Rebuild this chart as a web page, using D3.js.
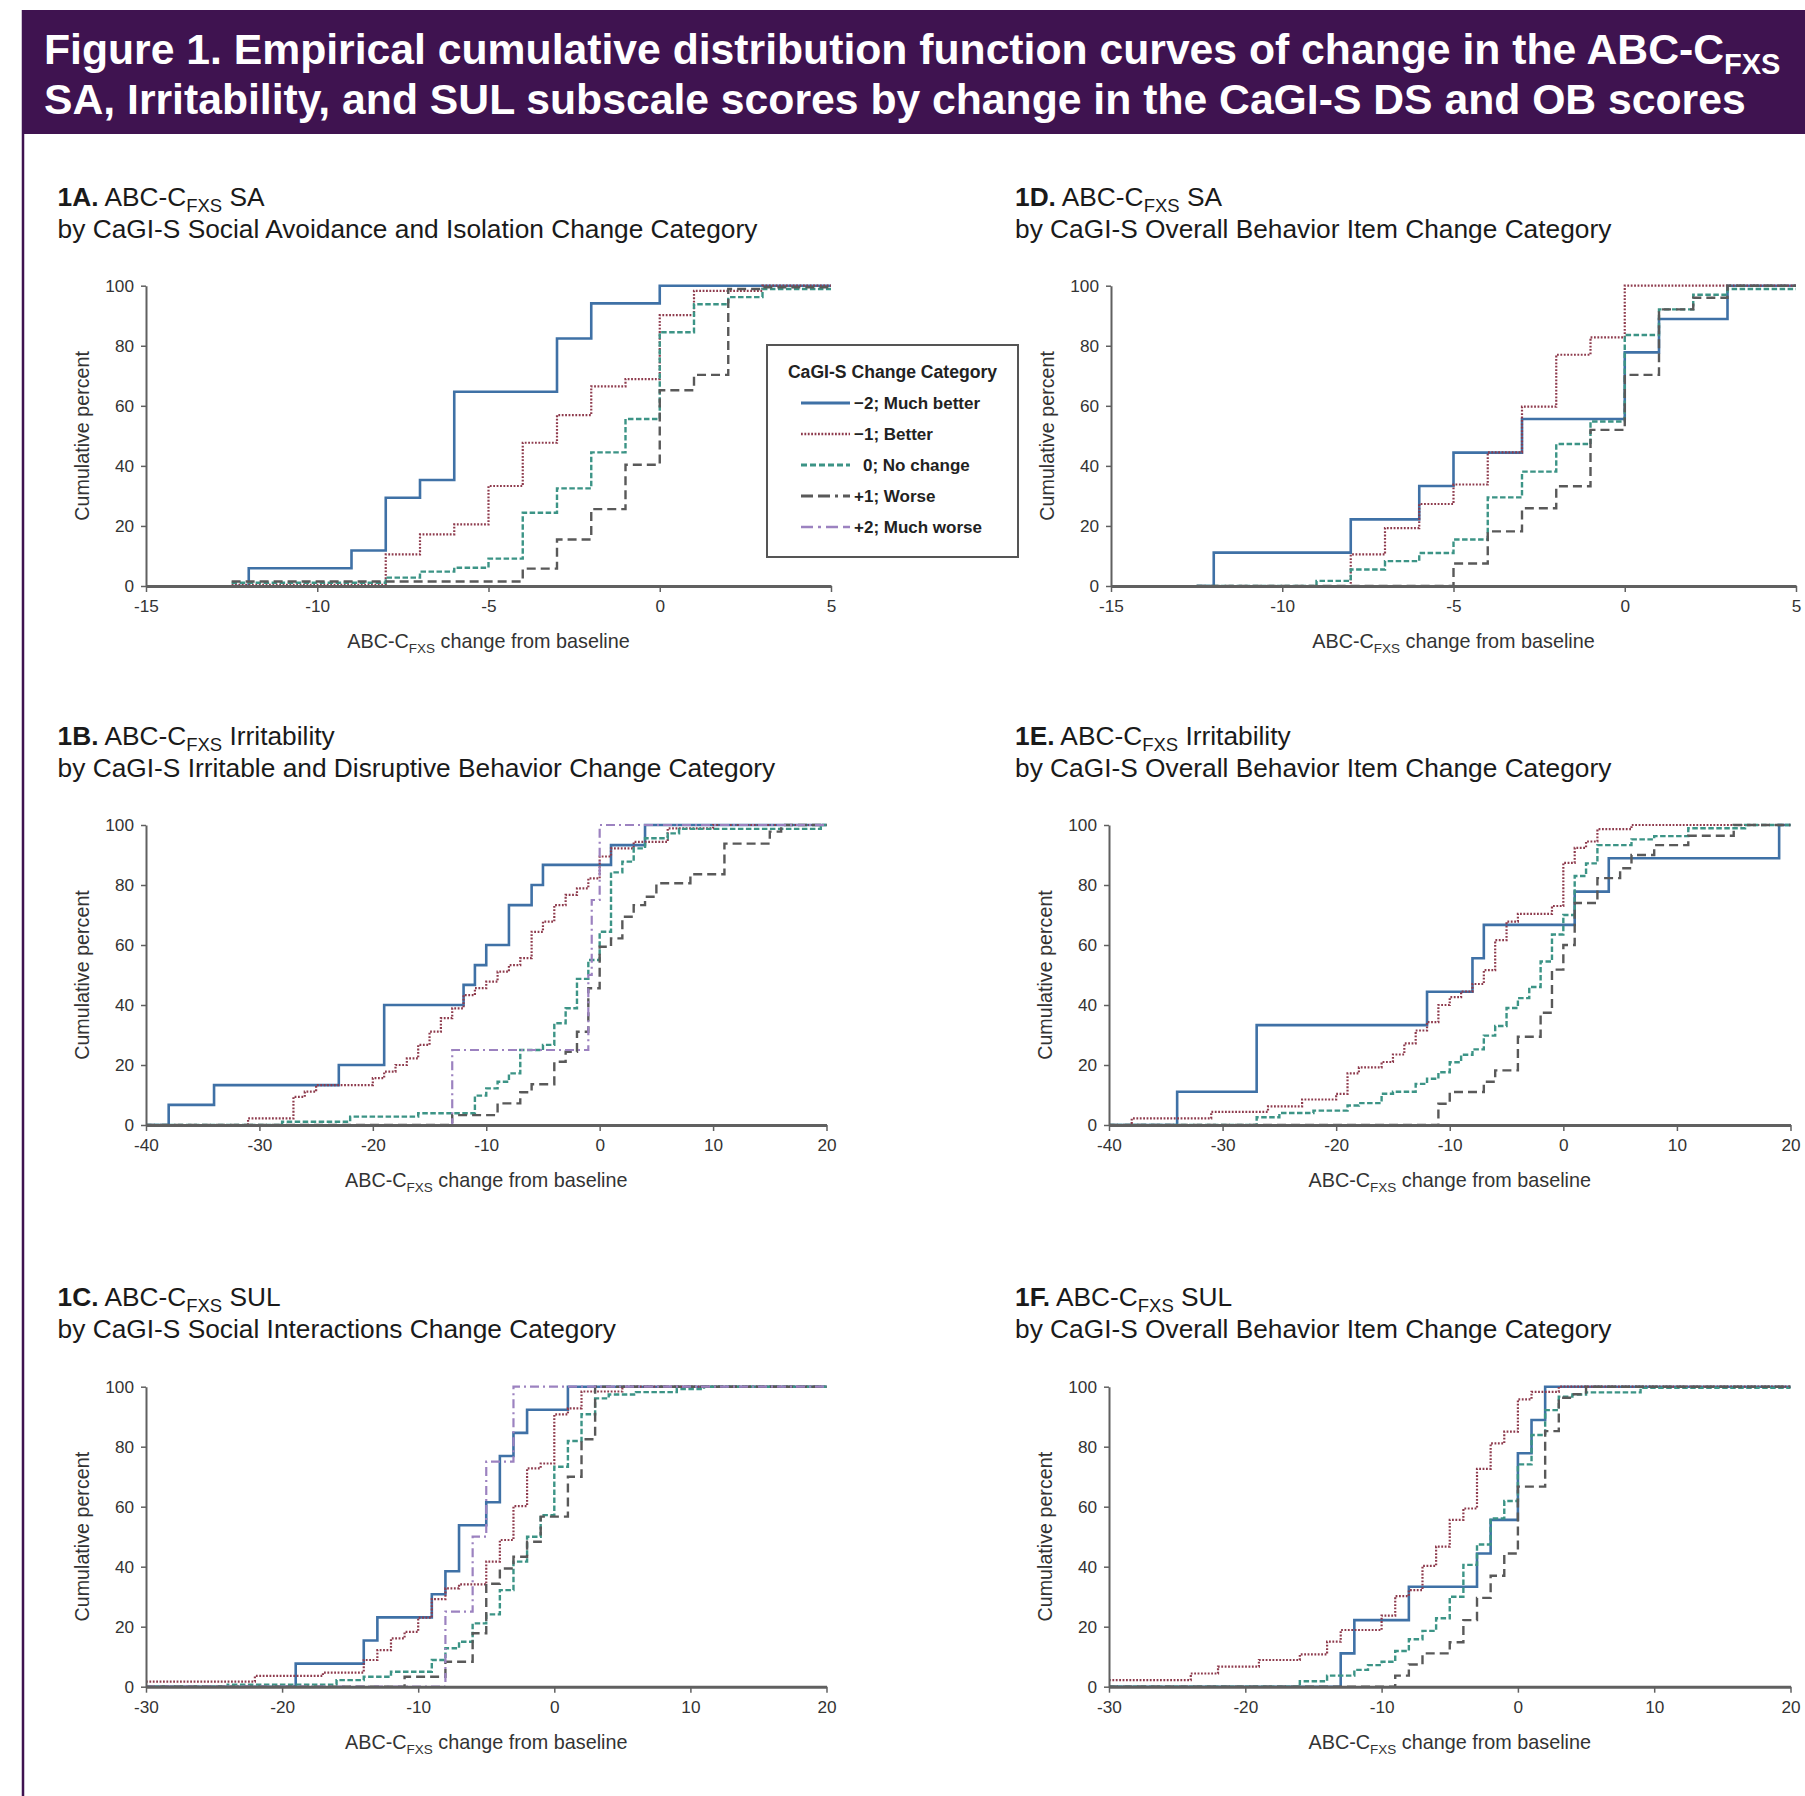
<!DOCTYPE html>
<html>
<head>
<meta charset="utf-8">
<script src="https://cdn.jsdelivr.net/npm/d3@7"></script>
<style>
  body { margin: 0; background: #ffffff; }
  svg { display: block; }
  text { font-family: "Liberation Sans", Arial, Helvetica, sans-serif; }
</style>
</head>
<body>
<svg id="fig" width="1805" height="1796"></svg>
<script>
// ---------------- DATA ----------------
const seriesLabels = ["\u22122; Much better", "\u22121; Better", "0; No change", "+1; Worse", "+2; Much worse"];
const seriesKeys = ["mb", "b", "nc", "w", "mw"];
const yTicks = [0, 20, 40, 60, 80, 100];
const xTicksSA = [-15, -10, -5, 0, 5];
const xTicksIrr = [-40, -30, -20, -10, 0, 10, 20];
const xTicksSUL = [-30, -20, -10, 0, 10, 20];

// Each series: [change from baseline, cumulative percent] step points
// 1A  SA by CaGI-S Social Avoidance and Isolation
const A_mb = [[-12.5,0],[-12,5.9],[-9,11.8],[-8,29.4],[-7,35.3],[-6,64.7],[-3,82.4],[-2,94.1],[0,100]];
const A_b  = [[-12.5,0.4],[-8,10.5],[-7,17.2],[-6,20.5],[-5,33.3],[-4,47.7],[-3,56.9],[-2,66.5],[-1,68.9],[0,90.2],[1,98.3],[3,100]];
const A_nc = [[-12.5,1.1],[-8,2.8],[-7,4.8],[-6,6.1],[-5,9.1],[-4,24.4],[-3,32.5],[-2,44.5],[-1,55.6],[0,84.5],[1,93.8],[2,96.2],[3,98.9]];
const A_w  = [[-12.5,1.5],[-4,5.8],[-3,15.5],[-2,25.6],[-1,40.4],[0,65.2],[1,70.3],[2,98.9],[3,99.5]];

// 1D  SA by CaGI-S Overall Behavior
const D_mb = [[-12.5,0],[-12,11.1],[-8,22.2],[-6,33.3],[-5,44.4],[-3,55.6],[0,77.8],[1,88.9],[3,100]];
const D_b  = [[-12.5,0],[-8,10.5],[-7,19.3],[-6,27.3],[-5,33.8],[-4,44.5],[-3,59.7],[-2,77],[-1,82.8],[0,100]];
const D_nc = [[-12.5,0],[-9,1.7],[-8,5.5],[-7,8.3],[-6,11],[-5,15.5],[-4,29.5],[-3,38.1],[-2,47.3],[-1,54.8],[0,83.6],[1,92.1],[2,97],[3,98.9]];
const D_w  = [[-12.5,0],[-5,7.5],[-4,18.2],[-3,25.9],[-2,33.2],[-1,52],[0,70.3],[1,92.1],[2,96],[3,100]];

// 1B  Irritability by CaGI-S Irritable and Disruptive Behavior
const B_mb = [[-40,0],[-38,6.7],[-34,13.3],[-23,20],[-19,40],[-12,46.7],[-11,53.3],[-10,60],[-8,73.3],[-6,80],[-5,86.7],[1,93.3],[4,100]];
const B_b  = [[-40,0],[-31,2.2],[-27,9.4],[-26,11.1],[-25,13.3],[-20,15.6],[-19,17.8],[-18,20],[-17,22.2],[-16,26.7],[-15,31.1],[-14,35.6],[-13,38.9],[-12,43.3],[-11,45.6],[-10,47.8],[-9,51.1],[-8,53.3],[-7,55.6],[-6,64.4],[-5,67.8],[-4,73.3],[-3,76.7],[-2,78.9],[-1,82.2],[0,89.5],[1,92.2],[3,94.4],[6,98.9],[10,100]];
const B_nc = [[-40,0],[-28,1.1],[-22,2.8],[-16,3.9],[-11,9.8],[-10,12.2],[-9,14.4],[-8,17.2],[-7,25],[-5,26.7],[-4,33.9],[-3,38.9],[-2,48.7],[-1,55],[0,64.4],[1,84.2],[2,87.8],[3,92.2],[4,95.6],[6,97.2],[7,98.7],[19.5,100]];
const B_w  = [[-40,0],[-13,3.3],[-9,7.2],[-7,10.9],[-6,13.6],[-4,21.1],[-3,24.4],[-2,31.1],[-1,45.6],[0,59.4],[1,62.2],[2,69.4],[3,73.3],[4,76.1],[5,80.6],[8,83.6],[11,93.8],[15,97.8],[16,100]];
const B_mw = [[-40,0],[-13,25],[-1,50],[-0.7,75],[0,100]];

// 1E  Irritability by CaGI-S Overall Behavior
const E_mb = [[-40,0],[-34,11.1],[-27,33.3],[-12,44.4],[-8,55.6],[-7,66.7],[1,77.8],[4,88.9],[19,100]];
const E_b  = [[-40,0],[-38,2.2],[-31,4.4],[-26,6.2],[-23,8.5],[-20,10.4],[-19,17.2],[-18,19.2],[-16,21],[-15,23.5],[-14,27.2],[-13,31.5],[-12,34.3],[-11,40],[-10,42.6],[-9,44.5],[-8,47],[-7,51.6],[-6,61.6],[-5,67.8],[-4,70.4],[-1,73],[0,87.4],[1,92.4],[2,94.5],[3,98.6],[6,100]];
const E_nc = [[-40,0],[-27,2.6],[-25,4],[-22,4.8],[-19,6.5],[-18,7.3],[-16,10.4],[-15,11.1],[-13,13.7],[-12,15.4],[-11,17.6],[-10,20.9],[-9,23.4],[-8,25.2],[-7,29.8],[-6,33],[-5,39],[-4,42.3],[-3,46],[-2,54.5],[-1,63.5],[0,70],[1,83],[2,87.2],[3,93.3],[6,95.2],[8,96.3],[11,98.9],[16,100]];
const E_w  = [[-40,0],[-11,7.1],[-10,11],[-7,14.4],[-6,18.2],[-4,29.4],[-2,37.4],[-1,51.8],[0,60],[1,74],[3,82.3],[5,85.6],[6,90],[8,93.3],[11,96.4],[15,100]];

// 1C  SUL by CaGI-S Social Interactions
const C_mb = [[-30,0],[-19,7.7],[-14,15.4],[-13,23.1],[-9,30.8],[-8,38.5],[-7,53.8],[-5,61.5],[-4,76.9],[-3,84.6],[-2,92.3],[1,100]];
const C_b  = [[-30,1.7],[-22,3.6],[-17,4.7],[-14,8.9],[-13,12.2],[-12,16.1],[-11,18.3],[-10,23],[-9,29.2],[-8,32.8],[-7,34.1],[-5,41.7],[-4,48.9],[-3,60.2],[-2,72.8],[-1,74.4],[0,90.8],[1,92.8],[2,98.4],[5,100]];
const C_nc = [[-30,0],[-24,0.7],[-16,2.2],[-14,3.3],[-12,5],[-9,8.9],[-8,12.8],[-7,15],[-6,21.1],[-5,24.1],[-4,32.2],[-3,41.7],[-2,50],[-1,57.2],[0,73.3],[1,81.9],[2,90.8],[3,96.1],[4,97.4],[6,98.2],[9,99.2],[11,100]];
const C_w  = [[-30,0],[-11,3.3],[-8,8.3],[-6,17.8],[-5,34.3],[-4,39.4],[-3,43.3],[-2,48.3],[-1,56.7],[1,70],[2,82.5],[3,100]];
const C_mw = [[-30,0],[-8,25],[-6,50],[-5,75],[-3,100]];

// 1F  SUL by CaGI-S Overall Behavior
const F_mb = [[-30,0],[-13,11.1],[-12,22.2],[-8,33.3],[-3,44.4],[-2,55.6],[0,77.8],[1,88.9],[2,100]];
const F_b  = [[-30,2.2],[-24,4.4],[-22,6.7],[-19,8.9],[-16,10.8],[-14,15],[-13,18.9],[-10,23.7],[-9,30.2],[-8,32.2],[-7,40.3],[-6,46.7],[-5,55.6],[-4,59.4],[-3,72.6],[-2,81.1],[-1,85],[0,95.8],[1,98.3],[3,100]];
const F_nc = [[-30,0],[-16,1.8],[-14,3.7],[-12,5.6],[-11,7.2],[-10,8.3],[-9,11.9],[-8,15.8],[-7,18.6],[-6,22.8],[-5,30],[-4,40.6],[-3,47.4],[-2,56.1],[-1,61.9],[0,74.1],[1,83.9],[2,92.2],[3,96.7],[4,97.4],[5,98.1],[9,99.6]];
const F_w  = [[-30,0],[-9,3.7],[-8,7.4],[-7,11.1],[-5,14.8],[-4,22.2],[-3,29.6],[-2,37],[-1,44.4],[0,66.7],[2,85.2],[3,96.3],[4,97.5],[5,100]];

// panel text
const panelIds = ["1A", "1D", "1B", "1E", "1C", "1F"];
const panelScales = ["SA", "SA", "Irritability", "Irritability", "SUL", "SUL"];
const panelSubtitles = [
  "by CaGI-S Social Avoidance and Isolation Change Category",
  "by CaGI-S Overall Behavior Item Change Category",
  "by CaGI-S Irritable and Disruptive Behavior Change Category",
  "by CaGI-S Overall Behavior Item Change Category",
  "by CaGI-S Social Interactions Change Category",
  "by CaGI-S Overall Behavior Item Change Category"
];
const panelDomains = [[-15, 5], [-15, 5], [-40, 20], [-40, 20], [-30, 20], [-30, 20]];
const panelTicks = [xTicksSA, xTicksSA, xTicksIrr, xTicksIrr, xTicksSUL, xTicksSUL];
const panelSeries = [
  {mb: A_mb, b: A_b, nc: A_nc, w: A_w},
  {mb: D_mb, b: D_b, nc: D_nc, w: D_w},
  {mb: B_mb, b: B_b, nc: B_nc, w: B_w, mw: B_mw},
  {mb: E_mb, b: E_b, nc: E_nc, w: E_w},
  {mb: C_mb, b: C_b, nc: C_nc, w: C_w, mw: C_mw},
  {mb: F_mb, b: F_b, nc: F_nc, w: F_w}
];

// ---------------- LAYOUT / STYLE ----------------
const layout = [
  {x0: 146, x1: 831,  yTop: 285.7, yBot: 586,    tx: 57.6, ty: 206},
  {x0: 1111, x1: 1796, yTop: 285.7, yBot: 586,   tx: 1015, ty: 206},
  {x0: 146, x1: 826.5, yTop: 825,   yBot: 1125,  tx: 57.6, ty: 745},
  {x0: 1109, x1: 1790.5, yTop: 825, yBot: 1125,  tx: 1015, ty: 745},
  {x0: 146, x1: 826.5, yTop: 1386.7, yBot: 1686.7, tx: 57.6, ty: 1306},
  {x0: 1109, x1: 1790.5, yTop: 1386.7, yBot: 1686.7, tx: 1015, ty: 1306}
];
const styles = {
  mb: {stroke: "#3f71a6", w: 2.6, dash: null},
  b:  {stroke: "#8e3b4d", w: 2.2, dash: "1.8,1.6"},
  nc: {stroke: "#3c9486", w: 2.4, dash: "5.5,2.5"},
  w:  {stroke: "#595959", w: 2.4, dash: "9,5"},
  mw: {stroke: "#9c82c0", w: 2.2, dash: "9,4,2,4"}
};
const purple = "#3f1350";
const axisColor = "#606060";
const textColor = "#333333";

const svg = d3.select("#fig");

// header band + left border
svg.append("rect").attr("x", 22).attr("y", 10).attr("width", 1805 - 22).attr("height", 124).attr("fill", purple);
svg.append("line").attr("x1", 23).attr("x2", 23).attr("y1", 10).attr("y2", 1796)
  .attr("stroke", purple).attr("stroke-width", 2.5);

const h1 = svg.append("text").attr("x", 44).attr("y", 64).attr("fill", "#ffffff")
  .attr("font-size", 42.7).attr("font-weight", "bold");
h1.append("tspan").text("Figure 1. Empirical cumulative distribution function curves of change in the ABC-C");
h1.append("tspan").attr("dy", 10).attr("font-size", 29).text("FXS");
svg.append("text").attr("x", 44).attr("y", 114).attr("fill", "#ffffff")
  .attr("font-size", 42.7).attr("font-weight", "bold")
  .text("SA, Irritability, and SUL subscale scores by change in the CaGI-S DS and OB scores");

function fmt(d) { return String(d); }

panelIds.forEach((pid, i) => {
  const L = layout[i];
  const dom = panelDomains[i];
  const x = d3.scaleLinear().domain(dom).range([L.x0, L.x1]);
  const y = d3.scaleLinear().domain([0, 100]).range([L.yBot, L.yTop]);
  const g = svg.append("g");

  // titles
  const t1 = g.append("text").attr("x", L.tx).attr("y", L.ty).attr("font-size", 26.3).attr("fill", "#1a1a1a");
  t1.append("tspan").attr("font-weight", "bold").text(pid + ".");
  t1.append("tspan").text(" ABC-C");
  t1.append("tspan").attr("dy", 6).attr("font-size", 18.5).text("FXS");
  t1.append("tspan").attr("dy", -6).text(" " + panelScales[i]);
  g.append("text").attr("x", L.tx).attr("y", L.ty + 32).attr("font-size", 26.3).attr("fill", "#1a1a1a")
    .text(panelSubtitles[i]);

  // series lines
  const line = d3.line().x(d => x(d[0])).y(d => y(d[1])).curve(d3.curveStepAfter);
  const ser = panelSeries[i];
  seriesKeys.forEach(k => {
    const data = ser[k];
    if (!data) return;
    const pts = data.concat([[dom[1], data[data.length - 1][1]]]);
    const st = styles[k];
    g.append("path").attr("d", line(pts)).attr("fill", "none")
      .attr("stroke", st.stroke).attr("stroke-width", st.w)
      .attr("stroke-dasharray", st.dash)
      .attr("stroke-linejoin", "miter");
  });

  // axes
  const xa = g.append("g").attr("transform", `translate(0,${L.yBot})`)
    .call(d3.axisBottom(x).tickValues(panelTicks[i]).tickFormat(fmt).tickSize(6).tickPadding(8).tickSizeOuter(0));
  xa.select(".domain").attr("stroke", axisColor).attr("stroke-width", 3);
  xa.selectAll(".tick line").attr("stroke", axisColor).attr("stroke-width", 1.5);
  xa.selectAll(".tick text").attr("fill", textColor).attr("font-size", 17.2)
    .attr("font-family", "'Liberation Sans', Arial, sans-serif");

  const ya = g.append("g").attr("transform", `translate(${L.x0},0)`)
    .call(d3.axisLeft(y).tickValues(yTicks).tickFormat(fmt).tickSize(5).tickPadding(7).tickSizeOuter(0));
  ya.select(".domain").attr("stroke", axisColor).attr("stroke-width", 2);
  ya.selectAll(".tick line").attr("stroke", axisColor).attr("stroke-width", 1.5);
  ya.selectAll(".tick text").attr("fill", textColor).attr("font-size", 17.2)
    .attr("font-family", "'Liberation Sans', Arial, sans-serif");

  // axis titles
  g.append("text").attr("transform", `translate(${L.x0 - 57},${(L.yTop + L.yBot) / 2}) rotate(-90)`)
    .attr("text-anchor", "middle").attr("font-size", 19.7).attr("fill", textColor).text("Cumulative percent");
  const xt = g.append("text").attr("x", (L.x0 + L.x1) / 2).attr("y", L.yBot + 62)
    .attr("text-anchor", "middle").attr("font-size", 19.8).attr("fill", textColor);
  xt.append("tspan").text("ABC-C");
  xt.append("tspan").attr("dy", 5).attr("font-size", 13.5).text("FXS");
  xt.append("tspan").attr("dy", -5).text(" change from baseline");
});

// legend (in panel 1A)
const lg = svg.append("g");
lg.append("rect").attr("x", 767).attr("y", 345).attr("width", 251).attr("height", 212)
  .attr("fill", "#ffffff").attr("stroke", "#555555").attr("stroke-width", 2);
lg.append("text").attr("x", 892.5).attr("y", 378).attr("text-anchor", "middle")
  .attr("font-size", 17.6).attr("font-weight", "bold").attr("fill", "#222").text("CaGI-S Change Category");
const legendDash = {mb: null, b: "1.8,1.6", nc: "6,3", w: "12,5,12,5,3,5", mw: "12,5,3,5,12,5"};
seriesKeys.forEach((k, j) => {
  const yy = 403 + j * 31;
  const st = styles[k];
  lg.append("line").attr("x1", 801).attr("x2", 850).attr("y1", yy).attr("y2", yy)
    .attr("stroke", st.stroke).attr("stroke-width", st.w + 0.4).attr("stroke-dasharray", legendDash[k]);
  lg.append("text").attr("x", k === "nc" ? 863 : 854).attr("y", yy + 6)
    .attr("font-size", 17).attr("font-weight", "bold").attr("fill", "#222").text(seriesLabels[j]);
});
</script>
</body>
</html>
